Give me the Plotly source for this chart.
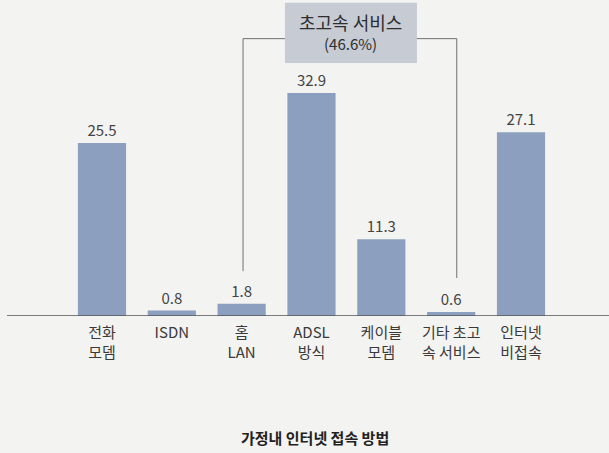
import plotly.graph_objects as go

categories = ["전화<br>모뎀", "ISDN", "홈<br>LAN", "ADSL<br>방식", "케이블<br>모뎀", "기타 초고<br>속 서비스", "인터넷<br>비접속"]
values = [25.5, 0.8, 1.8, 32.9, 11.3, 0.6, 27.1]
value_labels = ["25.5", "0.8", "1.8", "32.9", "11.3", "0.6", "27.1"]
group_label = "초고속 서비스"
group_share = "(46.6%)"
chart_title = "가정내 인터넷 접속 방법"

BG = "#f3f3f1"
BAR = "#8c9fbf"
INK = "#3a3a3a"
FONT = "Noto Sans CJK KR, Noto Sans, sans-serif"

fig = go.Figure(
    go.Bar(
        x=categories,
        y=values,
        text=value_labels,
        textposition="outside",
        cliponaxis=False,
        textfont={"size": 15, "color": "#444444", "family": FONT},
        marker={"color": BAR, "line": {"width": 0}},
        width=0.69,
    )
)

# bracket around the "high-speed" group (홈 LAN .. 기타 초고속 서비스)
lo, hi = 2, 5
top = 40.9
fig.add_shape(type="line", x0=lo + 0.02, x1=lo + 0.02, y0=6.6, y1=top,
              line={"color": "#707070", "width": 1})
fig.add_shape(type="line", x0=hi + 0.08, x1=hi + 0.08, y0=5.6, y1=top,
              line={"color": "#707070", "width": 1})
fig.add_shape(type="line", x0=lo + 0.02, x1=hi + 0.08, y0=top, y1=top,
              line={"color": "#707070", "width": 1})
fig.add_shape(type="rect", x0=2.62, x1=4.51, y0=37.3, y1=46.2,
              fillcolor="#c6cbd4", line={"width": 0})
fig.add_annotation(x=3.56, y=43.3, text=group_label, showarrow=False,
                   font={"size": 18, "color": "#2e2e2e", "family": FONT})
fig.add_annotation(x=3.56, y=40.2, text=group_share, showarrow=False,
                   font={"size": 15, "color": "#2e2e2e", "family": FONT})

# baseline
fig.add_shape(type="line", xref="paper", x0=0.0115, x1=1, y0=0, y1=0,
              line={"color": "#555555", "width": 1.5})

fig.add_annotation(xref="paper", yref="paper", x=0.517, y=-0.383, yanchor="middle",
                   text=f"<b>{chart_title}</b>", showarrow=False,
                   font={"size": 15, "color": "#222222", "family": FONT})

fig.update_layout(
    width=609,
    height=453,
    margin={"l": 0, "r": 0, "t": 0, "b": 137},
    paper_bgcolor=BG,
    plot_bgcolor=BG,
    showlegend=False,
    font={"family": FONT, "color": INK},
)
fig.update_xaxes(
    type="category",
    range=[-1.46, 7.26],
    showgrid=False,
    showline=False,
    zeroline=False,
    ticks="",
    ticklabelstandoff=6,
    tickfont={"size": 15, "color": INK, "family": FONT},
)
fig.update_yaxes(range=[0, 46.6], visible=False, showgrid=False, zeroline=False)

fig.write_html(
    "out.html",
    config={"displayModeBar": False},
    post_script="document.body.style.margin='0';",
)
